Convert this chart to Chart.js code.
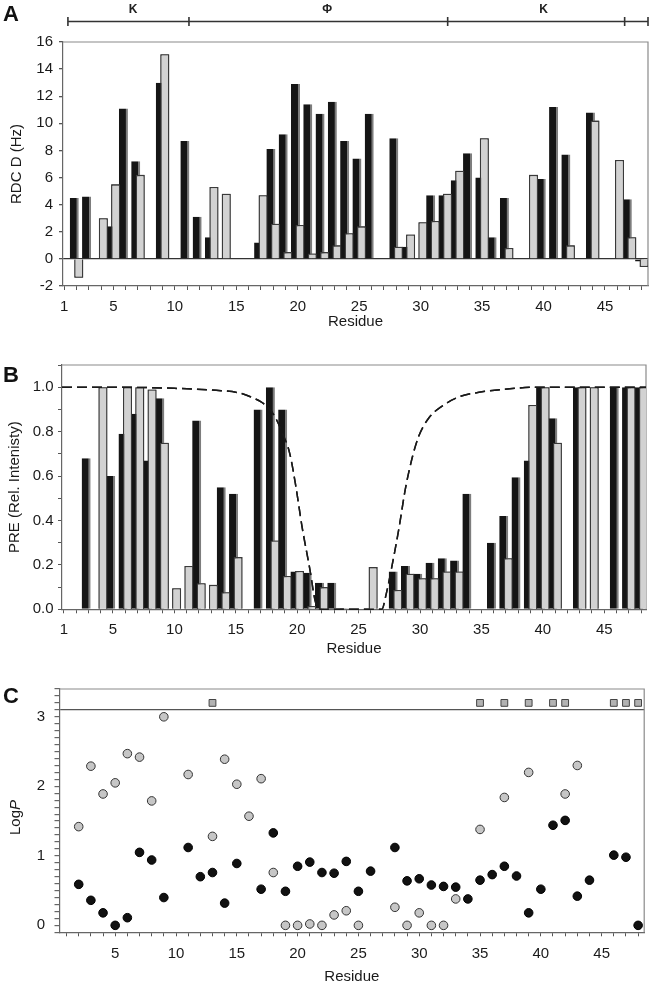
<!DOCTYPE html>
<html>
<head>
<meta charset="utf-8">
<script src="https://cdn.jsdelivr.net/npm/chart.js@4.4.1/dist/chart.umd.min.js"></script>
<style>
  html, body { margin: 0; padding: 0; background: #fff; overflow: hidden; }
  .panel { position: absolute; left: 0; width: 650px; }
</style>
</head>
<body>
<div class="panel" style="top:0;height:335px"><canvas id="rdc"></canvas></div>
<div class="panel" style="top:335px;height:325px"><canvas id="pre"></canvas></div>
<div class="panel" style="top:660px;height:330px"><canvas id="logp"></canvas></div>
<script>
// residue numbers 1..48
const residues = [1,2,3,4,5,6,7,8,9,10,11,12,13,14,15,16,17,18,19,20,21,22,23,24,
                  25,26,27,28,29,30,31,32,33,34,35,36,37,38,39,40,41,42,43,44,45,46,47,48];

// panel A - RDC (Hz)
const rdcBlack = [null,4.5,4.6,null,2.4,11.1,7.2,null,13.0,null,8.7,3.1,1.6,null,null,null,
                  1.2,8.1,9.2,12.9,11.4,10.7,11.6,8.7,7.4,10.7,null,8.9,0.9,null,4.7,4.7,
                  5.8,7.8,6.0,1.6,4.5,null,null,5.9,11.2,7.7,null,10.8,null,null,4.4,-0.2];
const rdcGray  = [null,-1.4,null,3.0,5.5,null,6.2,null,15.1,null,null,null,5.3,4.8,null,null,
                  4.7,2.6,0.5,2.5,0.4,0.5,1.0,1.9,2.4,null,null,0.9,1.8,2.7,2.8,4.8,
                  6.5,null,8.9,null,0.8,null,6.2,null,null,1.0,null,10.2,null,7.3,1.6,-0.6];
const segNames = ['K', 'Φ', 'K'];
const segBounds = [1.3, 11.15, 32.2, 46.6, 48.5];
const segLabelAt = [6.6, 22.4, 40.0];

// panel B - PRE (relative intensity)
const preBlack = [null,null,0.68,null,0.60,0.79,0.88,0.67,0.95,null,null,0.85,null,0.55,0.52,null,
                  0.90,1.0,0.90,0.17,0.165,0.12,0.12,0.005,null,null,null,0.17,0.195,0.16,0.21,0.23,
                  0.22,0.52,null,0.30,0.42,0.595,0.67,1.0,0.86,null,1.0,null,null,1.0,1.0,1.0];
const preGray  = [null,null,null,1.0,null,1.0,1.0,0.99,0.75,0.095,0.195,0.117,0.11,0.077,0.235,null,
                  null,0.31,0.15,0.173,0.015,0.10,null,null,null,0.19,null,0.087,0.16,0.14,0.14,0.17,
                  0.17,null,null,null,0.23,null,0.92,1.0,0.75,null,1.0,1.0,null,null,1.0,1.0];
const curveRes = [0.85,5,10,13.4,15.3,16.4,17.2,18.0,18.8,19.4,19.9,20.4,21.0,21.5,21.9,
                  26.9,27.2,27.7,28.3,28.8,29.4,29.9,30.7,31.8,33.2,34.8,36.7,39.5,48.4];
const curveVal = [1.0,1.0,0.995,0.986,0.974,0.952,0.929,0.884,0.794,0.70,0.55,0.37,0.19,0.03,0,
                  0,0.057,0.19,0.37,0.54,0.69,0.78,0.86,0.915,0.957,0.977,0.99,1.0,1.0];

// panel C - LogP
const logBlack = [null,0.59,0.36,0.18,0,0.11,1.05,0.94,0.40,null,1.12,0.70,0.76,0.32,0.89,null,
                  0.52,1.33,0.49,0.85,0.91,0.76,0.75,0.92,0.49,0.78,null,1.12,0.64,0.67,0.58,0.56,
                  0.55,0.38,0.65,0.73,0.85,0.71,0.18,0.52,1.44,1.51,0.42,0.65,null,1.01,0.98,0];
const logGray  = [null,1.42,2.29,1.89,2.05,2.47,2.42,1.79,3.0,null,2.17,null,1.28,2.39,2.03,1.57,
                  2.11,0.76,0,0,0.02,0,0.15,0.21,0,null,null,0.26,0,0.18,0,0,
                  0.38,null,1.38,null,1.84,null,2.20,null,null,1.89,2.30,null,null,null,null,null];
const offScaleRes = [13,35,37,39,41,42,46,47,48];
const offScaleLog = [3.2,3.2,3.2,3.2,3.2,3.2,3.2,3.2,3.2];
const cutoffLog = 3.1;

const FONT = "'Liberation Sans', Arial, sans-serif";
Chart.defaults.font.family = FONT;
Chart.defaults.font.size = 15;
Chart.defaults.color = '#1a1a1a';
Chart.defaults.animation = false;

const pts = (xs, ys) => xs.map((x, i) => ({x: x, y: ys[i]}));

const frame = {
    id: 'frame',
    beforeDatasetsDraw(chart) {
        const {ctx, chartArea: a} = chart;
        ctx.save();
        ctx.strokeStyle = '#8a8a8a';
        ctx.lineWidth = 1.2;
        ctx.beginPath();
        ctx.moveTo(a.left, a.top);
        ctx.lineTo(a.right, a.top);
        ctx.lineTo(a.right, a.bottom);
        ctx.stroke();
        ctx.restore();
    }
};

const panelLetter = {
    id: 'panelLetter',
    afterDraw(chart, args, opts) {
        const ctx = chart.ctx;
        ctx.save();
        ctx.font = `bold 22px ${FONT}`;
        ctx.fillStyle = '#111';
        ctx.textAlign = 'left';
        ctx.textBaseline = 'alphabetic';
        ctx.fillText(opts.text, 3, opts.y);
        ctx.restore();
    }
};

// gray bars sit in front of the black ones, dashed curve in front of both
const grayOnTop = {
    id: 'grayOnTop',
    afterDatasetsDraw(chart) {
        const {ctx, chartArea: a} = chart;
        ctx.save();
        ctx.beginPath();
        ctx.rect(a.left, a.top - 2, a.width, a.height + 4);
        ctx.clip();
        chart.getDatasetMeta(1).controller.draw();
        if (chart.data.datasets.length > 2) chart.getDatasetMeta(2).controller.draw();
        ctx.restore();
    }
};

const segmentBar = {
    id: 'segmentBar',
    afterDraw(chart) {
        const ctx = chart.ctx;
        const xs = chart.scales.x;
        const y = 21.5;
        ctx.save();
        ctx.strokeStyle = '#333';
        ctx.lineWidth = 1.6;
        ctx.beginPath();
        ctx.moveTo(xs.getPixelForValue(segBounds[0]), y);
        ctx.lineTo(xs.getPixelForValue(segBounds[segBounds.length - 1]), y);
        segBounds.forEach(b => {
            const px = xs.getPixelForValue(b);
            ctx.moveTo(px, y - 4.5);
            ctx.lineTo(px, y + 4.5);
        });
        ctx.stroke();
        ctx.font = `bold 12px ${FONT}`;
        ctx.fillStyle = '#222';
        ctx.textAlign = 'center';
        segNames.forEach((n, i) => ctx.fillText(n, xs.getPixelForValue(segLabelAt[i]), 13));
        ctx.restore();
    }
};

const logTitle = {
    id: 'logTitle',
    afterDraw(chart) {
        const ctx = chart.ctx;
        ctx.save();
        ctx.translate(20, 157.5);
        ctx.rotate(-Math.PI / 2);
        ctx.fillStyle = '#1a1a1a';
        ctx.textBaseline = 'alphabetic';
        ctx.font = `15px ${FONT}`;
        const w1 = ctx.measureText('Log').width;
        ctx.font = `italic 15px ${FONT}`;
        const w2 = ctx.measureText('P').width;
        const x0 = -(w1 + w2) / 2;
        ctx.font = `15px ${FONT}`;
        ctx.fillText('Log', x0, 0);
        ctx.font = `italic 15px ${FONT}`;
        ctx.fillText('P', x0 + w1, 0);
        ctx.restore();
    }
};

function residueAxis(min, max, showOne, height, titlePad, tickPad) {
    return {
        type: 'linear',
        min: min,
        max: max,
        offset: false,
        afterFit: s => { s.height = height; },
        ticks: {
            stepSize: 1,
            autoSkip: false,
            includeBounds: false,
            maxRotation: 0,
            padding: tickPad,
            callback: v => (v % 5 === 0 || (showOne && v === 1)) ? String(v) : ''
        },
        grid: { drawOnChartArea: false, offset: false, tickLength: 4, tickColor: '#555' },
        border: { color: '#666', width: 1.2 },
        title: { display: true, text: 'Residue', padding: { top: 0, bottom: titlePad } }
    };
}

const blackBar = {
    backgroundColor: '#151515',
    borderColor: '#7d7d7d',
    borderWidth: { top: 0, right: 2, bottom: 0, left: 0 },
    categoryPercentage: 0.733,
    barPercentage: 2.0
};
const grayBar = {
    backgroundColor: '#d2d2d2',
    borderColor: '#3a3a3a',
    borderWidth: 1.3,
    categoryPercentage: 0.733,
    barPercentage: 2.0
};

new Chart(document.getElementById('rdc'), {
    type: 'bar',
    data: {
        datasets: [
            Object.assign({ label: 'RDC black', data: pts(residues, rdcBlack) }, blackBar),
            Object.assign({ label: 'RDC gray', data: pts(residues, rdcGray) }, grayBar)
        ]
    },
    options: {
        responsive: true,
        maintainAspectRatio: false,
        layout: { padding: { top: 42, right: 2, left: 0, bottom: 0 } },
        plugins: { legend: { display: false }, tooltip: { enabled: false }, panelLetter: { text: 'A', y: 21 } },
        scales: {
            x: residueAxis(0.9, 48.5, true, 49, 4.5, 8),
            y: {
                min: -2, max: 16,
                afterFit: s => { s.width = 63; },
                ticks: { stepSize: 2, padding: 6 },
                grid: {
                    color: c => (c.tick && c.tick.value === 0) ? '#333' : 'rgba(0,0,0,0)',
                    lineWidth: 1.3,
                    tickColor: '#555',
                    tickLength: 4
                },
                border: { color: '#666', width: 1.2 },
                title: { display: true, text: 'RDC D (Hz)', padding: { top: 8, bottom: 0 } }
            }
        }
    },
    plugins: [frame, grayOnTop, segmentBar, panelLetter]
});

new Chart(document.getElementById('pre'), {
    type: 'bar',
    data: {
        datasets: [
            Object.assign({ label: 'PRE black', data: pts(residues, preBlack) }, blackBar),
            Object.assign({ label: 'PRE gray', data: pts(residues, preGray) }, grayBar),
            {
                type: 'line',
                label: 'PRE curve',
                data: pts(curveRes, curveVal),
                borderColor: '#1a1a1a',
                borderWidth: 1.5,
                borderDash: [10, 5],
                pointRadius: 0,
                fill: false,
                cubicInterpolationMode: 'monotone'
            }
        ]
    },
    options: {
        responsive: true,
        maintainAspectRatio: false,
        layout: { padding: { top: 30, right: 4, left: 0, bottom: 0 } },
        plugins: { legend: { display: false }, tooltip: { enabled: false }, panelLetter: { text: 'B', y: 47 } },
        scales: {
            x: residueAxis(0.85, 48.4, true, 50.7, 2.5, 8),
            y: {
                min: 0, max: 1.1,
                afterFit: s => { s.width = 62; },
                ticks: {
                    stepSize: 0.1,
                    autoSkip: false,
                    padding: 4.5,
                    callback: v => Math.round(v * 10) % 2 === 0 ? Number(v).toFixed(1) : ''
                },
                grid: { drawOnChartArea: false, tickColor: '#555', tickLength: 4 },
                border: { color: '#666', width: 1.2 },
                title: { display: true, text: 'PRE (Rel. Intenisty)', padding: { top: 6, bottom: 0 } }
            }
        }
    },
    plugins: [frame, grayOnTop, panelLetter]
});

new Chart(document.getElementById('logp'), {
    type: 'scatter',
    data: {
        datasets: [
            {
                label: 'LogP black',
                data: pts(residues, logBlack),
                pointStyle: 'circle',
                pointRadius: 4.3,
                backgroundColor: '#111',
                borderColor: '#000',
                borderWidth: 1
            },
            {
                label: 'LogP gray',
                data: pts(residues, logGray),
                pointStyle: 'circle',
                pointRadius: 4.3,
                backgroundColor: '#c6c6c6',
                borderColor: '#333',
                borderWidth: 1
            },
            {
                label: 'LogP off scale',
                data: pts(offScaleRes, offScaleLog),
                pointStyle: 'rect',
                pointRadius: 4.8,
                backgroundColor: '#b2b2b2',
                borderColor: '#444',
                borderWidth: 1
            }
        ]
    },
    options: {
        responsive: true,
        maintainAspectRatio: false,
        layout: { padding: { top: 29, right: 5.5, left: 0, bottom: 0 } },
        plugins: { legend: { display: false }, tooltip: { enabled: false }, panelLetter: { text: 'C', y: 43 } },
        scales: {
            x: residueAxis(0.42, 48.5, false, 57.7, 4.5, 9),
            y: {
                min: -0.1, max: 3.4,
                afterFit: s => { s.width = 59.5; },
                ticks: {
                    stepSize: 0.1,
                    autoSkip: false,
                    padding: 9.5,
                    callback: v => Math.abs(v - Math.round(v)) < 1e-6 ? String(Math.round(v)) : ''
                },
                grid: {
                    color: c => (c.tick && Math.abs(c.tick.value - cutoffLog) < 1e-6) ? '#555' : 'rgba(0,0,0,0)',
                    lineWidth: 1.2,
                    tickColor: '#666',
                    tickLength: 5
                },
                border: { color: '#666', width: 1.2 },
                title: { display: false }
            }
        }
    },
    plugins: [frame, logTitle, panelLetter]
});
</script>
</body>
</html>
